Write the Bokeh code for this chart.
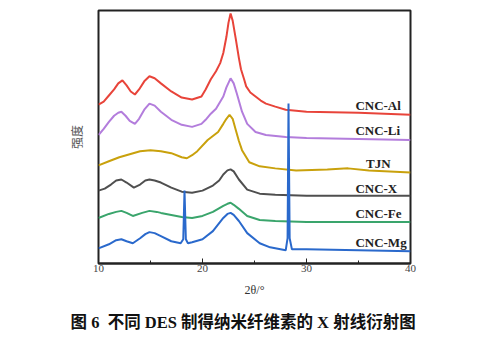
from bokeh.plotting import figure
from bokeh.models import Range1d, FixedTicker, Title, Label
from bokeh.embed import file_html
from bokeh.resources import INLINE

# ---- data (2θ in degrees, intensity in arbitrary stacked units) ----
al_x = [10, 10.5, 11, 11.5, 11.9, 12.3, 12.7, 13.1, 13.5, 13.9, 14.4, 14.9, 15.4, 16, 17, 18, 19, 19.9, 20.3, 20.8, 21.3, 21.7, 22.0, 22.3, 22.5, 22.7, 22.9, 23.2, 23.5, 23.7, 24.0, 24.2, 24.6, 25.1, 25.6, 26.1, 27, 28, 30, 35, 40]
al_y = [157, 160, 166, 172, 178, 181, 176, 170, 167, 172, 180, 185, 183, 178, 170, 164, 162, 165, 172, 182, 190, 198, 208, 224, 238, 247, 240, 222, 203, 192, 182, 175, 169, 165, 161, 158, 155, 152, 150, 149, 147]

li_x = [10, 10.5, 11, 11.5, 11.9, 12.2, 12.6, 13.0, 13.5, 13.9, 14.4, 14.9, 15.4, 16, 17, 18, 19, 19.9, 20.3, 20.8, 21.3, 22, 22.3, 22.7, 23.0, 23.3, 23.8, 24.3, 25.1, 26.1, 28, 30, 35, 40]
li_y = [127, 133, 140, 146, 149, 150, 146, 141, 138, 143, 152, 158, 156, 150, 142, 137, 135, 138, 142, 148, 153, 165, 174, 183, 178, 168, 150, 138, 130, 127, 125, 124, 123, 122]

tjn_x = [10, 11, 12, 13, 14, 15, 16, 17, 18, 18.5, 19, 19.5, 20.5, 21.5, 22, 22.3, 22.6, 22.9, 23.2, 23.5, 23.8, 24.5, 25.5, 27, 29, 32, 34, 36, 40]
tjn_y = [97, 101, 105, 108, 111, 112, 111, 109, 105, 104, 107, 111, 122, 130, 138, 143, 147, 143, 132, 121, 112, 100, 96, 94, 92, 93, 94, 92, 90]

x_x = [10, 10.6, 11.2, 11.7, 12.2, 12.7, 13.4, 14.0, 14.5, 14.9, 15.4, 16, 17, 18, 19, 20, 21, 21.6, 22, 22.4, 22.7, 23.0, 23.5, 24.3, 25.5, 27, 30, 35, 40]
x_y = [72, 74, 78, 82, 83, 80, 75, 78, 82, 83, 82, 80, 75, 71, 70, 72, 77, 82, 88, 92, 93, 91, 83, 73, 69, 68, 67, 67, 67]

fe_x = [10, 11, 11.7, 12.2, 12.7, 13.3, 14.2, 14.9, 15.6, 16, 17, 18, 19, 20, 21, 22, 22.4, 22.7, 23.0, 23.5, 24.3, 25.5, 27, 30, 40]
fe_y = [45, 49, 51, 52, 50, 47, 50, 52, 51, 50, 48, 46, 45, 47, 51, 57, 59, 60, 58, 54, 47, 43, 42, 41, 41]

mg_x = [10, 11, 11.7, 12.2, 12.7, 13.3, 14.0, 14.5, 14.9, 15.4, 16, 17, 17.9, 18.15, 18.27, 18.4, 18.6, 19, 20, 21, 22, 22.4, 22.7, 23.0, 23.5, 24.3, 25.5, 26.5, 27.5, 28.0, 28.18, 28.27, 28.38, 28.6, 30, 35, 40]
mg_y = [15, 19, 23, 24, 22, 20, 25, 29, 31, 30, 27, 22, 20, 24, 72, 24, 20, 21, 24, 32, 45, 49, 50, 48, 42, 30, 20, 16, 14, 13, 25, 158, 25, 14, 14, 13, 12]

series_names = ["CNC-Al", "CNC-Li", "TJN", "CNC-X", "CNC-Fe", "CNC-Mg"]
series_colors = ["#e8443a", "#b37ddc", "#c9a10c", "#4f4f4f", "#3aa56c", "#2a69cc"]
label_x = [34.7, 34.7, 36.9, 34.7, 34.7, 34.7]
label_y = [156, 131, 99, 74, 49, 21]
label_align = ["left", "left", "center", "left", "left", "left"]

x_ticks = [10, 20, 30, 40]
x_minor = [15, 25, 35]

caption = "图 6\u00a0\u00a0不同 DES 制得纳米纤维素的 X 射线衍射图"
y_title = "强度"
x_title = "2θ/°"

serif = "Liberation Serif"
cjk = "Noto Sans CJK SC"

p = figure(width=503, height=350, output_backend="svg", toolbar_location=None,
           x_range=Range1d(10, 40), y_range=Range1d(0, 250),
           min_border_left=98, min_border_right=93, min_border_top=10, min_border_bottom=10)
p.background_fill_color = "white"
p.border_fill_color = "white"
p.xgrid.visible = False
p.ygrid.visible = False
p.outline_line_color = "#222222"
p.outline_line_width = 2

xa = p.xaxis[0]
xa.ticker = FixedTicker(ticks=x_ticks, minor_ticks=x_minor)
xa.axis_line_color = "#222222"
xa.axis_line_width = 2
xa.major_tick_in = 5
xa.major_tick_out = 0
xa.minor_tick_in = 3
xa.minor_tick_out = 0
xa.major_tick_line_color = "#222222"
xa.minor_tick_line_color = "#222222"
xa.major_label_text_font = serif
xa.major_label_text_font_size = "11px"
xa.major_label_text_color = "#444444"
xa.major_label_standoff = 1
xa.axis_label = x_title
xa.axis_label_text_font = serif
xa.axis_label_text_font_style = "normal"
xa.axis_label_text_font_size = "12px"
xa.axis_label_text_color = "#333333"
xa.axis_label_standoff = 8

ya = p.yaxis[0]
ya.ticker = FixedTicker(ticks=[])
ya.axis_line_color = None
ya.major_tick_line_color = None
ya.minor_tick_line_color = None
ya.major_label_text_font_size = "0px"
ya.major_label_standoff = 0
ya.major_tick_out = 0
ya.axis_label = y_title
ya.axis_label_text_font = cjk
ya.axis_label_text_font_style = "normal"
ya.axis_label_text_font_size = "12px"
ya.axis_label_text_color = "#555555"
ya.axis_label_standoff = 14

series = [(al_x, al_y), (li_x, li_y), (tjn_x, tjn_y), (x_x, x_y), (fe_x, fe_y), (mg_x, mg_y)]
for (xs, ys), c in zip(series, series_colors):
    p.line(xs, ys, line_color=c, line_width=2)

for name, lx, ly, al in zip(series_names, label_x, label_y, label_align):
    p.add_layout(Label(x=lx, y=ly, text=name, text_font=serif, text_font_style="bold",
                       text_font_size="13px", text_color="#222222", text_align=al,
                       text_baseline="middle"))

cap = Title(text=caption, align="left", offset=-28, standoff=22,
            text_font="'Liberation Serif', 'Noto Sans CJK SC'", text_font_style="bold",
            text_font_size="16.5px", text_color="#111111")
p.add_layout(cap, "below")

spacer = Title(text="\u00a0", text_font_size="6px", standoff=0, text_color="white")
p.add_layout(spacer, "below")

open("out.html", "w").write(file_html(p, INLINE))
